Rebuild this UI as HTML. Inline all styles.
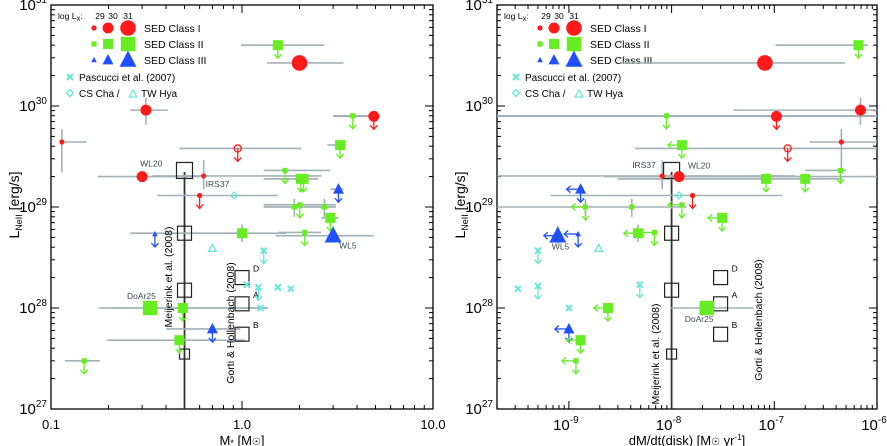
<!DOCTYPE html>
<html><head><meta charset="utf-8"><style>
body{margin:0;background:#fff}
svg{display:block;font-family:"Liberation Sans",sans-serif}
</style></head><body>
<svg id="chart" width="887" height="446" viewBox="0 0 887 446" xmlns="http://www.w3.org/2000/svg"></svg>
<script>
// ---------- Left panel data: stellar mass vs L_NeII ----------
const massX   = [0.114,0.314,2.0,1.54,4.9,3.8,3.26,0.95,0.30,0.63,2.03,2.1,1.68,0.6,0.91,3.2,1.88,2.01,2.7,2.9,1.0,2.13,3.0,0.35,0.70,1.3,1.06,1.22,1.54,1.80,1.25,0.33,0.49,0.70,0.47,0.149];
const massL   = [4.4e29,9.1e29,2.67e30,4.0e30,7.9e29,8e29,4.1e29,3.8e29,2.0e29,2.03e29,1.9e29,1.9e29,2.3e29,1.3e29,1.3e29,1.5e29,1.0e29,1.05e29,1.0e29,7.8e28,5.5e28,5.6e28,5.2e28,5.4e28,3.9e28,3.7e28,1.7e28,1.6e28,1.6e28,1.55e28,1.0e28,1.0e28,1.0e28,6.2e27,4.8e27,3.0e27];
const massKind= ['c','c','c','s','c','s','s','oc','c','c','s','s','s','c','d','t','s','s','s','s','s','s','t','t','ot','x','x','x','x','x','x','s','s','t','s','s'];
const massSize= [0,1,2,1,1,0,1,0,1,0,1,1,0,0,0,1,0,0,0,1,1,0,2,0,0,0,0,0,0,0,0,2,1,1,1,0];
const massFlag= ['','','','d','d','d','d','d','','','d','d','d','d','','d','','d','','d','','d','','d','','d','','d','','','','','d','d','d','d'];
const massXlo = [0.114,0.26,1.35,0.99,3.0,3.0,2.8,0.47,0.176,0.34,1.3,1.3,1.3,0,0.36,2.9,1.3,1.3,1.3,2.6,0.26,1.55,1.5,0,0,0,0,0,0,0,0,0.178,0.21,0.4,0.196,0.118];
const massXhi = [0.154,0.41,3.4,2.7,5.2,5.2,3.5,2.05,0.60,2.6,2.5,2.5,2.9,0,1.54,3.4,3.1,3.1,3.1,3.2,1.7,2.6,4.9,0,0,0,0,0,0,0,0,1.37,1.37,0.98,1.04,0.18];
const massYlo = [2.2e29,6.5e29,0,0,0,0,0,0,0,1.5e29,0,0,0,0,0,0,8e28,0,8e28,0,4.5e28,0,4.3e28,0,0,0,0,0,0,0,0,8.5e27,0,0,0,0];
const massYhi = [5.9e29,1.2e30,0,0,0,0,0,0,0,2.9e29,0,0,0,0,0,0,1.2e29,0,1.2e29,0,6.7e28,0,0,0,0,0,0,0,0,0,0,1.15e28,0,0,0,0];
const massLbl = ['','','','','','','','','WL20','IRS37','','','','','','','','','','','','','WL5','','','','','','','','','DoAr25','','','',''];
const massMeijL = [2.3e29,5.5e28,1.5e28,3.5e27];
const massMeijX = 0.5;
const massGortL = [2.0e28,1.1e28,5.5e27];
const massGortLbl = ['D','A','B'];
const massGortX = 1.0;
const massXTicks = ['0.1','1.0','10.0'];
const massXTickVals = [0.1,1,10];

// ---------- Right panel data: disk accretion rate vs L_NeII ----------
const rateX   = [6.6e-7,8.1e-8,6.9e-7,1.05e-7,8.9e-9,1.26e-8,1.35e-7,4.5e-7,8.1e-9,1.18e-8,8.3e-8,2.0e-7,4.4e-7,1.18e-8,1.6e-8,1.3e-9,1.45e-9,4.1e-9,1.26e-8,3.1e-8,4.7e-9,6.8e-9,7.8e-10,1.23e-9,5e-10,1.95e-9,3.2e-10,5e-10,4.9e-9,1e-9,2.4e-9,2.2e-8,1.0e-9,1.3e-9,1.17e-9];
const rateL   = [4.0e30,2.67e30,9.1e29,7.9e29,8e29,4.1e29,3.8e29,4.4e29,2.03e29,2.0e29,1.9e29,1.9e29,2.3e29,1.3e29,1.3e29,1.5e29,1.0e29,1.0e29,1.05e29,7.8e28,5.5e28,5.6e28,5.2e28,5.4e28,3.7e28,3.9e28,1.55e28,1.65e28,1.7e28,1.0e28,1.0e28,1.0e28,6.2e27,4.8e27,3.0e27];
const rateKind= ['s','c','c','c','s','s','oc','c','c','c','s','s','s','d','c','t','s','s','s','s','s','s','t','t','x','ot','x','x','x','x','s','s','t','s','s'];
const rateSize= [1,2,1,1,0,1,0,0,0,1,1,1,0,0,0,1,0,0,0,1,1,0,2,0,0,0,0,0,0,0,1,2,1,1,0];
const rateFlag= ['d','','','d','d','dl','d','','','','d','d','d','','d','dl','dl','','dl','dl','l','dl','l','dl','d','','','d','d','','dl','','dl','dl','dl'];
const rateXlo = [1.03e-7,3.2e-9,4e-8,2e-10,2e-10,0,4.4e-9,2.2e-7,2e-10,2.2e-9,3.0e-9,3.0e-9,2.0e-7,6.6e-10,0,0,0,2e-10,0,0,0,0,0,0,0,0,0,0,0,0,0,9.6e-9,0,0,0];
const rateXhi = [8.2e-7,4.9e-7,1e-6,1e-6,1e-6,0,1e-6,1e-6,1.6e-7,1e-6,2.9e-7,4.6e-7,5.0e-7,1.2e-7,0,0,0,1.4e-8,0,0,0,0,0,0,0,0,0,0,0,0,0,6.3e-8,0,0,0];
const rateYlo = [0,0,6.5e29,0,0,0,0,2.2e29,1.5e29,0,0,0,0,0,0,0,8e28,8e28,0,0,4.5e28,0,4.3e28,0,0,0,0,0,0,0,0,8.5e27,0,0,0];
const rateYhi = [0,0,1.2e30,0,0,0,0,5.9e29,2.9e29,0,0,0,0,0,0,0,1.2e29,1.2e29,0,0,6.7e28,0,6.5e28,0,0,0,0,0,0,0,0,1.15e28,0,0,0];
const rateLbl = ['','','','','','','','','IRS37','WL20','','','','','','','','','','','','','WL5','','','','','','','','','DoAr25','','',''];
const rateMeijL = [2.3e29,5.5e28,1.5e28,3.5e27];
const rateMeijX = 1e-8;
const rateGortL = [2.0e28,1.1e28,5.5e27];
const rateGortLbl = ['D','A','B'];
const rateGortX = 3e-8;
const rateXTickExp = ['-9','-8','-7','-6'];
const rateXTickVals = [1e-9,1e-8,1e-7,1e-6];

const yTickExp = ['31','30','29','28','27'];
const yTickVals = [1e31,1e30,1e29,1e28,1e27];

// ---------- helpers ----------
const NS='http://www.w3.org/2000/svg';
const svg=document.getElementById('chart');
const TOP=5, BOT=409;
function Y(L){return TOP+(31-Math.log10(L))*101;}
function XL(m){return 51+(Math.log10(m)+1)*191;}
function XR(r){return 497+(Math.log10(r)+9.7)*102.7;}
const COL={c:'#ff1a1a',oc:'#ff1a1a',s:'#66ee22',t:'#1f4fff',x:'#66e6dc',d:'#66e6dc',ot:'#66e6dc'};
function mk(tag,attrs,parent){const e=document.createElementNS(NS,tag);for(const k in attrs)e.setAttribute(k,attrs[k]);(parent||svg).appendChild(e);return e;}
function txt(x,y,s,size,anchor,parent,extra){const t=mk('text',Object.assign({x:x,y:y,'font-size':size,'text-anchor':anchor||'start',fill:'#000'},extra||{}),parent);t.textContent=s;return t;}
function pow(x,y,exp,anchor,parent){
  const t=mk('text',{x:x,y:y,'font-size':15,'text-anchor':anchor,fill:'#000'},parent);
  const a=document.createElementNS(NS,'tspan');a.textContent='10';t.appendChild(a);
  const b=document.createElementNS(NS,'tspan');b.setAttribute('dy','-7');b.setAttribute('font-size','10');b.textContent=exp;t.appendChild(b);
  return t;
}
function arrowDown(x,y,c,g){mk('line',{x1:x,y1:y,x2:x,y2:y+13,stroke:c,'stroke-width':1.3},g);mk('polyline',{points:(x-3.5)+','+(y+9)+' '+x+','+(y+13)+' '+(x+3.5)+','+(y+9),fill:'none',stroke:c,'stroke-width':1.3},g);}
function arrowLeft(x,y,c,g){mk('line',{x1:x,y1:y,x2:x-14,y2:y,stroke:c,'stroke-width':1.3},g);mk('polyline',{points:(x-10)+','+(y-3.5)+' '+(x-14)+','+y+' '+(x-10)+','+(y+3.5),fill:'none',stroke:c,'stroke-width':1.3},g);}
function symbol(kind,size,x,y,g){
  const c=COL[kind];
  if(kind==='c'){mk('circle',{cx:x,cy:y,r:[2.6,5.5,7.8][size],fill:c},g);}
  else if(kind==='oc'){mk('circle',{cx:x,cy:y,r:3.5,fill:'none',stroke:c,'stroke-width':1.3},g);}
  else if(kind==='s'){const h=[2.6,5,7.2][size];mk('rect',{x:x-h,y:y-h,width:2*h,height:2*h,fill:c},g);}
  else if(kind==='t'){const h=[2.8,5.5,8.5][size];mk('polygon',{points:x+','+(y-h*1.1)+' '+(x-h)+','+(y+h*0.8)+' '+(x+h)+','+(y+h*0.8),fill:c},g);}
  else if(kind==='ot'){mk('polygon',{points:x+','+(y-4)+' '+(x-3.8)+','+(y+3)+' '+(x+3.8)+','+(y+3),fill:'none',stroke:c,'stroke-width':1.3},g);}
  else if(kind==='x'){mk('path',{d:'M'+(x-3)+' '+(y-3)+'L'+(x+3)+' '+(y+3)+'M'+(x-3)+' '+(y+3)+'L'+(x+3)+' '+(y-3),stroke:c,'stroke-width':2},g);}
  else if(kind==='d'){mk('polygon',{points:x+','+(y-3.5)+' '+(x+3.5)+','+y+' '+x+','+(y+3.5)+' '+(x-3.5)+','+y,fill:'none',stroke:c,'stroke-width':1.3},g);}
}
function legend(dx,parent){
  const g=mk('g',{},parent);
  
  
  const t=mk('text',{x:58+dx,y:19,'font-size':8.5,fill:'#000'},g);
  t.innerHTML='log L<tspan dy="2" font-size="6">X</tspan><tspan dy="-2">:</tspan>';
  txt(100+dx,19,'29',8.5,'middle',g);txt(113+dx,19,'30',8.5,'middle',g);txt(128+dx,19,'31',8.5,'middle',g);
  const rows=[['c','SED Class I',28],['s','SED Class II',44],['t','SED Class III',60]];
  rows.forEach(r=>{
    const e=mk('g',{},g);
    
    
    symbol(r[0],0,94+dx,r[2],e);symbol(r[0],1,108+dx,r[2],e);symbol(r[0],2,128+dx,r[2],e);
    txt(144+dx,r[2]+4,r[1],10.5,'start',e);
  });
  symbol('x',0,70+dx,77,g);txt(79+dx,81,'Pascucci et al. (2007)',10,'start',g);
  symbol('d',0,70+dx,93,g);txt(79+dx,97,'CS Cha /',10,'start',g);
  symbol('ot',0,133+dx,94,g);txt(141+dx,97,'TW Hya',10,'start',g);
}
function axesFrame(x0,x1,g,xMinorFn){
  mk('rect',{x:x0,y:TOP,width:x1-x0,height:BOT-TOP,fill:'none',stroke:'#000','stroke-width':1.3},g);
  for(let e=27;e<31;e++){
    for(let k=1;k<10;k++){
      const y=Y(k*Math.pow(10,e));const len=k===1?8:4;
      mk('line',{x1:x0,y1:y,x2:x0+len,y2:y,stroke:'#000','stroke-width':1},g);
      mk('line',{x1:x1,y1:y,x2:x1-len,y2:y,stroke:'#000','stroke-width':1},g);
    }
  }
  xMinorFn();
}

// ---------- left panel ----------
const gL=mk('g',{});


axesFrame(51,433,gL,()=>{
  for(let e=-1;e<1;e++)for(let k=1;k<10;k++){const x=XL(k*Math.pow(10,e));const len=k===1?8:4;
    mk('line',{x1:x,y1:BOT,x2:x,y2:BOT-len,stroke:'#000'},gL);mk('line',{x1:x,y1:TOP,x2:x,y2:TOP+len,stroke:'#000'},gL);}
});
yTickExp.forEach((s,i)=>{const t=pow(47,Y(yTickVals[i])+5,s,'end',gL);});
massXTicks.forEach((s,i)=>{const t=txt(XL(massXTickVals[i]),429,s,13,'middle',gL);});
const xtL=mk('text',{x:242,y:445,'font-size':13,'text-anchor':'middle',fill:'#000'},gL);
xtL.innerHTML='M<tspan font-size="9" dy="1">*</tspan><tspan dy="-1"> [M</tspan><tspan font-size="10">☉</tspan>]';

const ytL=mk('text',{x:0,y:0,'font-size':14,'text-anchor':'middle',fill:'#000',transform:'translate(19,205) rotate(-90)'},gL);
ytL.innerHTML='L<tspan font-size="9" dy="3">NeII</tspan><tspan dy="-3">  [erg/s]</tspan>';

legend(0,gL);

function drawPanel(g,X,xs,Ls,kinds,sizes,flags,xlo,xhi,ylo,yhi,lbls,meijX,meijL,gortX,gortL,gortLbl,meijTxt,gortTxt,lblSide){
  mk('line',{x1:X(meijX),y1:172,x2:X(meijX),y2:BOT,stroke:'#333','stroke-width':1.8},g);
  xs.forEach((v,i)=>{
    const y=Y(Ls[i]);
    if(xlo[i]&&xhi[i]){const e=mk('line',{x1:Math.max(X(xlo[i]),g===gL?51:497),y1:y,x2:Math.min(X(xhi[i]),g===gL?433:877),y2:y,stroke:'#a3b1b6','stroke-width':1.6},g);
      }
    if(ylo[i]&&yhi[i]){const x=X(v);mk('line',{x1:x,y1:Y(ylo[i]),x2:x,y2:Y(yhi[i]),stroke:'#a3b1b6','stroke-width':1.6},g);}
  });
  meijL.forEach((L,i)=>{const h=i===3?5:(i===0?8:7);const b=mk('rect',{x:X(meijX)-h,y:Y(L)-h,width:2*h,height:2*h,fill:'none',stroke:'#222','stroke-width':1.2},g);
    });
  gortL.forEach((L,i)=>{const h=7;const b=mk('rect',{x:X(gortX)-h,y:Y(L)-h,width:2*h,height:2*h,fill:'none',stroke:'#222','stroke-width':1.2},g);
    
    txt(X(gortX)+11,Y(L)-6,gortLbl[i],8.5,'start',g);});
  const m=txt(0,0,'Meijerink et al. (2008)',10.5,'middle',g,{transform:'translate('+meijTxt[0]+','+meijTxt[1]+') rotate(-90)'});
  
  const gt=txt(0,0,'Gorti & Hollenbach (2008)',10.5,'middle',g,{transform:'translate('+gortTxt[0]+','+gortTxt[1]+') rotate(-90)'});
  
  xs.forEach((v,i)=>{
    const x=X(v),y=Y(Ls[i]);const c=COL[kinds[i]];
    const p=mk('g',{},g);
    
    
    if(flags[i].includes('d'))arrowDown(x,y,c,p);
    if(flags[i].includes('l'))arrowLeft(x,y,c,p);
    symbol(kinds[i],sizes[i],x,y,p);
    if(lbls[i]){const o=lblSide[lbls[i]];txt(x+o[0],y+o[1],lbls[i],8.5,'start',p,{fill:'#3a4a50'});}
  });
}
drawPanel(gL,XL,massX,massL,massKind,massSize,massFlag,massXlo,massXhi,massYlo,massYhi,massLbl,massMeijX,massMeijL,massGortX,massGortL,massGortLbl,[172,277],[234,323],
  {WL20:[-2,-10],IRS37:[2,11],WL5:[6,13],DoAr25:[-23,-9]});

// ---------- right panel ----------
const gR=mk('g',{});


axesFrame(497,877,gR,()=>{
  for(let e=-10;e<-6;e++)for(let k=1;k<10;k++){const x=XR(k*Math.pow(10,e));if(x<497)continue;const len=k===1?8:4;
    mk('line',{x1:x,y1:BOT,x2:x,y2:BOT-len,stroke:'#000'},gR);mk('line',{x1:x,y1:TOP,x2:x,y2:TOP+len,stroke:'#000'},gR);}
});
yTickExp.forEach((s,i)=>{const t=pow(493,Y(yTickVals[i])+5,s,'end',gR);});
rateXTickExp.forEach((s,i)=>{const t=pow(XR(rateXTickVals[i])-3,430,s,'middle',gR);});
const xtR=mk('text',{x:687,y:445,'font-size':13,'text-anchor':'middle',fill:'#000'},gR);
xtR.innerHTML='dM/dt(disk) [M<tspan font-size="10">☉</tspan> yr<tspan font-size="8" dy="-5">-1</tspan><tspan dy="5">]</tspan>';

const ytR=mk('text',{x:0,y:0,'font-size':14,'text-anchor':'middle',fill:'#000',transform:'translate(465,205) rotate(-90)'},gR);
ytR.innerHTML='L<tspan font-size="9" dy="3">NeII</tspan><tspan dy="-3">  [erg/s]</tspan>';

legend(446,gR);
drawPanel(gR,XR,rateX,rateL,rateKind,rateSize,rateFlag,rateXlo,rateXhi,rateYlo,rateYhi,rateLbl,rateMeijX,rateMeijL,rateGortX,rateGortL,rateGortLbl,[659,354],[762,320],
  {IRS37:[-30,-8],WL20:[9,-8],WL5:[-6,14],DoAr25:[-22,14]});
</script>
</body></html>
